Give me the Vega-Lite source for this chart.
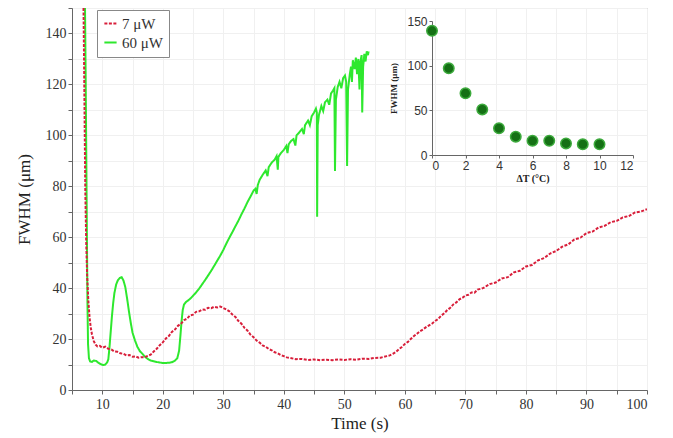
{
  "$schema": "https://vega.github.io/schema/vega-lite/v6.json",
  "width": 575,
  "height": 382,
  "autosize": "none",
  "padding": {"left": 72, "top": 8, "right": 26, "bottom": 48},
  "background": "white",
  "config": {
    "view": {"stroke": "#999", "strokeWidth": 1},
    "axis": {
      "labelFont": "Liberation Serif",
      "titleFont": "Liberation Serif",
      "labelFontSize": 14,
      "titleFontSize": 17,
      "titleFontWeight": "normal",
      "labelColor": "#333",
      "titleColor": "#222",
      "domainColor": "#666",
      "tickColor": "#666",
      "gridColor": "#f0f0f0",
      "tickSize": 4
    }
  },
  "datasets": {
    "curves": [
      {"t": 7.15, "v": 150, "s": "60 μW"}, {"t": 7.25, "v": 125, "s": "60 μW"}, {"t": 7.35, "v": 95, "s": "60 μW"}, {"t": 7.45, "v": 65, "s": "60 μW"}, {"t": 7.55, "v": 35, "s": "60 μW"}, {"t": 7.65, "v": 18, "s": "60 μW"}, {"t": 7.8, "v": 12.5, "s": "60 μW"}, {"t": 8.0, "v": 11.2, "s": "60 μW"}, {"t": 8.3, "v": 11, "s": "60 μW"}, {"t": 8.6, "v": 11.6, "s": "60 μW"}, {"t": 9.0, "v": 11.4, "s": "60 μW"}, {"t": 9.3, "v": 10.8, "s": "60 μW"}, {"t": 9.7, "v": 10.2, "s": "60 μW"}, {"t": 10.1, "v": 9.8, "s": "60 μW"}, {"t": 10.5, "v": 10, "s": "60 μW"}, {"t": 10.8, "v": 10.8, "s": "60 μW"}, {"t": 11.0, "v": 12, "s": "60 μW"}, {"t": 11.2, "v": 17, "s": "60 μW"}, {"t": 11.4, "v": 23, "s": "60 μW"}, {"t": 11.6, "v": 29, "s": "60 μW"}, {"t": 11.8, "v": 34, "s": "60 μW"}, {"t": 12.0, "v": 38, "s": "60 μW"}, {"t": 12.3, "v": 41.5, "s": "60 μW"}, {"t": 12.6, "v": 43.2, "s": "60 μW"}, {"t": 12.9, "v": 44, "s": "60 μW"}, {"t": 13.2, "v": 44.3, "s": "60 μW"}, {"t": 13.5, "v": 43, "s": "60 μW"}, {"t": 13.8, "v": 40.5, "s": "60 μW"}, {"t": 14.1, "v": 36, "s": "60 μW"}, {"t": 14.4, "v": 31, "s": "60 μW"}, {"t": 14.7, "v": 26.5, "s": "60 μW"}, {"t": 15.0, "v": 22.5, "s": "60 μW"}, {"t": 15.4, "v": 19.5, "s": "60 μW"}, {"t": 15.8, "v": 17, "s": "60 μW"}, {"t": 16.2, "v": 15.3, "s": "60 μW"}, {"t": 16.6, "v": 14.3, "s": "60 μW"}, {"t": 17, "v": 13.2, "s": "60 μW"}, {"t": 17.5, "v": 12.2, "s": "60 μW"}, {"t": 18, "v": 11.6, "s": "60 μW"}, {"t": 18.5, "v": 11.3, "s": "60 μW"}, {"t": 19, "v": 11, "s": "60 μW"}, {"t": 19.5, "v": 10.8, "s": "60 μW"}, {"t": 20, "v": 10.6, "s": "60 μW"}, {"t": 20.5, "v": 10.6, "s": "60 μW"}, {"t": 21, "v": 10.7, "s": "60 μW"}, {"t": 21.5, "v": 10.9, "s": "60 μW"}, {"t": 22, "v": 11.5, "s": "60 μW"}, {"t": 22.4, "v": 12.5, "s": "60 μW"}, {"t": 22.7, "v": 15.5, "s": "60 μW"}, {"t": 22.9, "v": 21, "s": "60 μW"}, {"t": 23.1, "v": 27, "s": "60 μW"}, {"t": 23.3, "v": 31.5, "s": "60 μW"}, {"t": 23.5, "v": 33.5, "s": "60 μW"}, {"t": 23.8, "v": 34.5, "s": "60 μW"}, {"t": 24.2, "v": 35.2, "s": "60 μW"}, {"t": 24.6, "v": 36, "s": "60 μW"}, {"t": 25, "v": 37, "s": "60 μW"}, {"t": 25.5, "v": 38.3, "s": "60 μW"}, {"t": 26, "v": 39.8, "s": "60 μW"}, {"t": 26.5, "v": 41.5, "s": "60 μW"}, {"t": 27, "v": 43.2, "s": "60 μW"}, {"t": 27.5, "v": 45, "s": "60 μW"}, {"t": 28, "v": 46.8, "s": "60 μW"}, {"t": 28.5, "v": 48.8, "s": "60 μW"}, {"t": 29, "v": 50.8, "s": "60 μW"}, {"t": 29.5, "v": 52.8, "s": "60 μW"}, {"t": 30, "v": 55, "s": "60 μW"}, {"t": 30.5, "v": 57.5, "s": "60 μW"}, {"t": 31, "v": 59.8, "s": "60 μW"}, {"t": 31.5, "v": 62, "s": "60 μW"}, {"t": 32, "v": 64.3, "s": "60 μW"}, {"t": 32.5, "v": 66.5, "s": "60 μW"}, {"t": 33, "v": 69, "s": "60 μW"}, {"t": 33.5, "v": 71.3, "s": "60 μW"}, {"t": 34, "v": 73.8, "s": "60 μW"}, {"t": 34.5, "v": 76, "s": "60 μW"}, {"t": 35, "v": 78.3, "s": "60 μW"}, {"t": 35.3, "v": 79, "s": "60 μW"}, {"t": 35.5, "v": 77, "s": "60 μW"}, {"t": 35.7, "v": 80.5, "s": "60 μW"}, {"t": 36, "v": 82.5, "s": "60 μW"}, {"t": 36.5, "v": 84.5, "s": "60 μW"}, {"t": 37, "v": 86.2, "s": "60 μW"}, {"t": 37.3, "v": 84, "s": "60 μW"}, {"t": 37.5, "v": 87.5, "s": "60 μW"}, {"t": 38, "v": 89.3, "s": "60 μW"}, {"t": 38.5, "v": 90.5, "s": "60 μW"}, {"t": 38.8, "v": 91.8, "s": "60 μW"}, {"t": 39.0, "v": 86.5, "s": "60 μW"}, {"t": 39.1, "v": 91.5, "s": "60 μW"}, {"t": 39.5, "v": 93, "s": "60 μW"}, {"t": 40, "v": 94.3, "s": "60 μW"}, {"t": 40.4, "v": 95.8, "s": "60 μW"}, {"t": 40.6, "v": 93, "s": "60 μW"}, {"t": 40.8, "v": 96.5, "s": "60 μW"}, {"t": 41.2, "v": 97.8, "s": "60 μW"}, {"t": 41.6, "v": 98.5, "s": "60 μW"}, {"t": 41.9, "v": 96, "s": "60 μW"}, {"t": 42.1, "v": 100, "s": "60 μW"}, {"t": 42.5, "v": 101, "s": "60 μW"}, {"t": 43, "v": 102.5, "s": "60 μW"}, {"t": 43.3, "v": 100.5, "s": "60 μW"}, {"t": 43.5, "v": 104, "s": "60 μW"}, {"t": 44, "v": 105.8, "s": "60 μW"}, {"t": 44.3, "v": 104, "s": "60 μW"}, {"t": 44.6, "v": 107.5, "s": "60 μW"}, {"t": 45, "v": 109, "s": "60 μW"}, {"t": 45.3, "v": 110.5, "s": "60 μW"}, {"t": 45.45, "v": 109, "s": "60 μW"}, {"t": 45.5, "v": 68, "s": "60 μW"}, {"t": 45.6, "v": 104, "s": "60 μW"}, {"t": 45.8, "v": 108, "s": "60 μW"}, {"t": 46.2, "v": 111.5, "s": "60 μW"}, {"t": 46.5, "v": 109.5, "s": "60 μW"}, {"t": 46.8, "v": 113, "s": "60 μW"}, {"t": 47.2, "v": 114, "s": "60 μW"}, {"t": 47.5, "v": 112, "s": "60 μW"}, {"t": 47.8, "v": 116.5, "s": "60 μW"}, {"t": 48.1, "v": 117.5, "s": "60 μW"}, {"t": 48.35, "v": 118.5, "s": "60 μW"}, {"t": 48.45, "v": 86, "s": "60 μW"}, {"t": 48.6, "v": 114, "s": "60 μW"}, {"t": 48.9, "v": 119, "s": "60 μW"}, {"t": 49.2, "v": 121, "s": "60 μW"}, {"t": 49.5, "v": 118.5, "s": "60 μW"}, {"t": 49.8, "v": 122.5, "s": "60 μW"}, {"t": 50.1, "v": 123.5, "s": "60 μW"}, {"t": 50.3, "v": 121, "s": "60 μW"}, {"t": 50.45, "v": 88, "s": "60 μW"}, {"t": 50.6, "v": 118, "s": "60 μW"}, {"t": 50.9, "v": 124, "s": "60 μW"}, {"t": 51.1, "v": 127, "s": "60 μW"}, {"t": 51.25, "v": 121, "s": "60 μW"}, {"t": 51.4, "v": 129.5, "s": "60 μW"}, {"t": 51.7, "v": 126, "s": "60 μW"}, {"t": 51.9, "v": 130.5, "s": "60 μW"}, {"t": 52.1, "v": 124, "s": "60 μW"}, {"t": 52.3, "v": 130, "s": "60 μW"}, {"t": 52.5, "v": 118, "s": "60 μW"}, {"t": 52.65, "v": 129, "s": "60 μW"}, {"t": 52.85, "v": 131.5, "s": "60 μW"}, {"t": 52.95, "v": 109, "s": "60 μW"}, {"t": 53.1, "v": 127, "s": "60 μW"}, {"t": 53.3, "v": 132, "s": "60 μW"}, {"t": 53.5, "v": 129, "s": "60 μW"}, {"t": 53.7, "v": 133, "s": "60 μW"}, {"t": 53.9, "v": 131.5, "s": "60 μW"}, {"t": 54.0, "v": 133, "s": "60 μW"},
      {"t": 6.9, "v": 150, "s": "7 μW"}, {"t": 7.0, "v": 128, "s": "7 μW"}, {"t": 7.1, "v": 102, "s": "7 μW"}, {"t": 7.2, "v": 78, "s": "7 μW"}, {"t": 7.35, "v": 58, "s": "7 μW"}, {"t": 7.5, "v": 45, "s": "7 μW"}, {"t": 7.7, "v": 35, "s": "7 μW"}, {"t": 7.9, "v": 28.5, "s": "7 μW"}, {"t": 8.1, "v": 24.5, "s": "7 μW"}, {"t": 8.3, "v": 21.8, "s": "7 μW"}, {"t": 8.6, "v": 19.2, "s": "7 μW"}, {"t": 8.9, "v": 17.8, "s": "7 μW"}, {"t": 9.2, "v": 17.1, "s": "7 μW"}, {"t": 9.6, "v": 17.3, "s": "7 μW"}, {"t": 10, "v": 16.6, "s": "7 μW"}, {"t": 10.5, "v": 17, "s": "7 μW"}, {"t": 11, "v": 16.2, "s": "7 μW"}, {"t": 11.5, "v": 15.9, "s": "7 μW"}, {"t": 12, "v": 15.1, "s": "7 μW"}, {"t": 12.5, "v": 15, "s": "7 μW"}, {"t": 13, "v": 14.4, "s": "7 μW"}, {"t": 13.5, "v": 14.2, "s": "7 μW"}, {"t": 14, "v": 13.6, "s": "7 μW"}, {"t": 14.5, "v": 13.7, "s": "7 μW"}, {"t": 15, "v": 13.1, "s": "7 μW"}, {"t": 15.5, "v": 13.2, "s": "7 μW"}, {"t": 16, "v": 12.7, "s": "7 μW"}, {"t": 16.5, "v": 12.9, "s": "7 μW"}, {"t": 17, "v": 12.8, "s": "7 μW"}, {"t": 17.5, "v": 13.4, "s": "7 μW"}, {"t": 18, "v": 13.9, "s": "7 μW"}, {"t": 18.5, "v": 15.1, "s": "7 μW"}, {"t": 19, "v": 16.2, "s": "7 μW"}, {"t": 19.5, "v": 17.6, "s": "7 μW"}, {"t": 20, "v": 18.7, "s": "7 μW"}, {"t": 20.5, "v": 20.2, "s": "7 μW"}, {"t": 21, "v": 21.2, "s": "7 μW"}, {"t": 21.5, "v": 22.8, "s": "7 μW"}, {"t": 22, "v": 23.7, "s": "7 μW"}, {"t": 22.5, "v": 25.2, "s": "7 μW"}, {"t": 23, "v": 26, "s": "7 μW"}, {"t": 23.5, "v": 27.4, "s": "7 μW"}, {"t": 24, "v": 28, "s": "7 μW"}, {"t": 24.5, "v": 29.3, "s": "7 μW"}, {"t": 25, "v": 29.6, "s": "7 μW"}, {"t": 25.5, "v": 30.7, "s": "7 μW"}, {"t": 26, "v": 30.9, "s": "7 μW"}, {"t": 26.5, "v": 31.6, "s": "7 μW"}, {"t": 27, "v": 31.5, "s": "7 μW"}, {"t": 27.5, "v": 32.3, "s": "7 μW"}, {"t": 28, "v": 32.1, "s": "7 μW"}, {"t": 28.5, "v": 32.7, "s": "7 μW"}, {"t": 29, "v": 32.4, "s": "7 μW"}, {"t": 29.5, "v": 32.8, "s": "7 μW"}, {"t": 30, "v": 32.2, "s": "7 μW"}, {"t": 30.5, "v": 31.6, "s": "7 μW"}, {"t": 31, "v": 30.9, "s": "7 μW"}, {"t": 31.5, "v": 29.6, "s": "7 μW"}, {"t": 32, "v": 28.7, "s": "7 μW"}, {"t": 32.5, "v": 27.1, "s": "7 μW"}, {"t": 33, "v": 26, "s": "7 μW"}, {"t": 33.5, "v": 24.4, "s": "7 μW"}, {"t": 34, "v": 23.3, "s": "7 μW"}, {"t": 34.5, "v": 21.7, "s": "7 μW"}, {"t": 35, "v": 20.7, "s": "7 μW"}, {"t": 35.5, "v": 19.4, "s": "7 μW"}, {"t": 36, "v": 18.6, "s": "7 μW"}, {"t": 36.5, "v": 17.5, "s": "7 μW"}, {"t": 37, "v": 17, "s": "7 μW"}, {"t": 37.5, "v": 16.1, "s": "7 μW"}, {"t": 38, "v": 15.6, "s": "7 μW"}, {"t": 38.5, "v": 14.8, "s": "7 μW"}, {"t": 39, "v": 14.4, "s": "7 μW"}, {"t": 39.5, "v": 13.7, "s": "7 μW"}, {"t": 40, "v": 13.3, "s": "7 μW"}, {"t": 40.5, "v": 12.8, "s": "7 μW"}, {"t": 41, "v": 12.6, "s": "7 μW"}, {"t": 42, "v": 12.1, "s": "7 μW"}, {"t": 43, "v": 12.2, "s": "7 μW"}, {"t": 44, "v": 11.8, "s": "7 μW"}, {"t": 45, "v": 12, "s": "7 μW"}, {"t": 46, "v": 11.7, "s": "7 μW"}, {"t": 47, "v": 11.9, "s": "7 μW"}, {"t": 48, "v": 11.7, "s": "7 μW"}, {"t": 49, "v": 12, "s": "7 μW"}, {"t": 50, "v": 11.8, "s": "7 μW"}, {"t": 51, "v": 12.1, "s": "7 μW"}, {"t": 52, "v": 11.9, "s": "7 μW"}, {"t": 53, "v": 12.3, "s": "7 μW"}, {"t": 54, "v": 12.2, "s": "7 μW"}, {"t": 55, "v": 12.6, "s": "7 μW"}, {"t": 56, "v": 12.7, "s": "7 μW"}, {"t": 57, "v": 13.3, "s": "7 μW"}, {"t": 57.5, "v": 13.6, "s": "7 μW"}, {"t": 58, "v": 14.2, "s": "7 μW"}, {"t": 58.5, "v": 14.9, "s": "7 μW"}, {"t": 59, "v": 16, "s": "7 μW"}, {"t": 59.5, "v": 16.9, "s": "7 μW"}, {"t": 60, "v": 18.1, "s": "7 μW"}, {"t": 60.5, "v": 18.9, "s": "7 μW"}, {"t": 61, "v": 20.1, "s": "7 μW"}, {"t": 61.5, "v": 21.2, "s": "7 μW"}, {"t": 62, "v": 22.1, "s": "7 μW"}, {"t": 62.5, "v": 23.1, "s": "7 μW"}, {"t": 63, "v": 23.8, "s": "7 μW"}, {"t": 63.5, "v": 24.7, "s": "7 μW"}, {"t": 64, "v": 25.4, "s": "7 μW"}, {"t": 64.5, "v": 26.1, "s": "7 μW"}, {"t": 65, "v": 27.1, "s": "7 μW"}, {"t": 65.5, "v": 27.9, "s": "7 μW"}, {"t": 66, "v": 29.2, "s": "7 μW"}, {"t": 66.5, "v": 30.1, "s": "7 μW"}, {"t": 67, "v": 31.4, "s": "7 μW"}, {"t": 67.5, "v": 32.3, "s": "7 μW"}, {"t": 68, "v": 33.6, "s": "7 μW"}, {"t": 68.5, "v": 34.4, "s": "7 μW"}, {"t": 69, "v": 35.6, "s": "7 μW"}, {"t": 69.5, "v": 36.2, "s": "7 μW"}, {"t": 70, "v": 37.1, "s": "7 μW"}, {"t": 70.5, "v": 37.4, "s": "7 μW"}, {"t": 71, "v": 38.3, "s": "7 μW"}, {"t": 71.5, "v": 38.2, "s": "7 μW"}, {"t": 72, "v": 39.4, "s": "7 μW"}, {"t": 73, "v": 40.1, "s": "7 μW"}, {"t": 74, "v": 41.6, "s": "7 μW"}, {"t": 75, "v": 42.2, "s": "7 μW"}, {"t": 76, "v": 43.8, "s": "7 μW"}, {"t": 77, "v": 44.3, "s": "7 μW"}, {"t": 78, "v": 46.2, "s": "7 μW"}, {"t": 79, "v": 46.8, "s": "7 μW"}, {"t": 80, "v": 48.5, "s": "7 μW"}, {"t": 81, "v": 49.1, "s": "7 μW"}, {"t": 82, "v": 50.9, "s": "7 μW"}, {"t": 83, "v": 51.8, "s": "7 μW"}, {"t": 84, "v": 53.6, "s": "7 μW"}, {"t": 85, "v": 54.6, "s": "7 μW"}, {"t": 86, "v": 56.3, "s": "7 μW"}, {"t": 87, "v": 57.2, "s": "7 μW"}, {"t": 88, "v": 59.1, "s": "7 μW"}, {"t": 89, "v": 59.8, "s": "7 μW"}, {"t": 90, "v": 61.6, "s": "7 μW"}, {"t": 91, "v": 62.2, "s": "7 μW"}, {"t": 92, "v": 63.8, "s": "7 μW"}, {"t": 93, "v": 64.5, "s": "7 μW"}, {"t": 94, "v": 65.9, "s": "7 μW"}, {"t": 95, "v": 66.4, "s": "7 μW"}, {"t": 96, "v": 67.8, "s": "7 μW"}, {"t": 97, "v": 68.3, "s": "7 μW"}, {"t": 98, "v": 69.7, "s": "7 μW"}, {"t": 99, "v": 70.1, "s": "7 μW"}, {"t": 100, "v": 71, "s": "7 μW"}
    ],
    "inset": [
      {"dT": 0, "fwhm": 139}, {"dT": 1, "fwhm": 97}, {"dT": 2, "fwhm": 69}, {"dT": 3, "fwhm": 51},
      {"dT": 4, "fwhm": 30}, {"dT": 5, "fwhm": 20.5}, {"dT": 6, "fwhm": 16}, {"dT": 7, "fwhm": 16},
      {"dT": 8, "fwhm": 13}, {"dT": 9, "fwhm": 12}, {"dT": 10, "fwhm": 12}
    ]
  },
  "layer": [
    {
      "data": {"name": "curves"},
      "mark": {"type": "line", "strokeWidth": 2, "clip": true},
      "encoding": {
        "x": {
          "field": "t", "type": "quantitative",
          "scale": {"domain": [5, 100], "nice": false, "zero": false},
          "axis": {
            "title": "Time (s)",
            "values": [5, 10, 15, 20, 25, 30, 35, 40, 45, 50, 55, 60, 65, 70, 75, 80, 85, 90, 95, 100],
            "labelExpr": "datum.value % 10 === 0 ? datum.label : ''",
            "labelPadding": 3,
            "titlePadding": 4,
            "grid": true
          }
        },
        "y": {
          "field": "v", "type": "quantitative",
          "scale": {"domain": [0, 150], "nice": false},
          "axis": {
            "title": "FWHM (μm)",
            "values": [0, 10, 20, 30, 40, 50, 60, 70, 80, 90, 100, 110, 120, 130, 140, 150],
            "labelExpr": "datum.value % 20 === 0 && datum.value < 150 ? datum.label : ''",
            "titlePadding": 12,
            "grid": true
          }
        },
        "color": {
          "field": "s", "type": "nominal",
          "scale": {"domain": ["7 μW", "60 μW"], "range": ["#d81e3a", "#2ee82e"]},
          "legend": {
            "title": null,
            "orient": "none",
            "legendX": 25,
            "legendY": 2,
            "direction": "vertical",
            "strokeColor": "#888",
            "fillColor": "white",
            "padding": 6,
            "labelFont": "Liberation Serif",
            "labelFontSize": 15,
            "labelColor": "#333",
            "symbolType": "stroke",
            "symbolSize": 150,
            "symbolStrokeWidth": 2,
            "rowPadding": 3
          }
        },
        "strokeDash": {
          "field": "s", "type": "nominal",
          "scale": {"domain": ["7 μW", "60 μW"], "range": [[3, 1.5], [1, 0]]},
          "legend": {"title": null}
        }
      }
    },
    {
      "data": {"name": "inset"},
      "mark": {"type": "point", "filled": true, "size": 110, "color": "#157015", "stroke": "#3caa3c", "strokeWidth": 1.5, "opacity": 1},
      "encoding": {
        "x": {
          "field": "dT", "type": "quantitative",
          "scale": {"domain": [0, 12], "range": [360, 561], "nice": false},
          "axis": {
            "orient": "bottom",
            "offset": -235,
            "grid": false,
            "values": [0, 2, 4, 6, 8, 10, 12],
            "title": "ΔT (°C)",
            "titleFont": "Liberation Serif",
            "titleFontSize": 10,
            "titleFontWeight": "bold",
            "titlePadding": 2,
            "labelFont": "Liberation Sans",
            "labelFontSize": 12,
            "tickSize": 3,
            "labelPadding": 2
          }
        },
        "y": {
          "field": "fwhm", "type": "quantitative",
          "scale": {"domain": [0, 150], "range": [147, 13], "nice": false},
          "axis": {
            "orient": "left",
            "offset": -360,
            "grid": false,
            "values": [0, 50, 100, 150],
            "title": "FWHM (μm)",
            "titleFont": "Liberation Serif",
            "titleFontSize": 9,
            "titleFontWeight": "bold",
            "titlePadding": 8,
            "labelFont": "Liberation Sans",
            "labelFontSize": 12,
            "tickSize": 3,
            "labelPadding": 2
          }
        }
      }
    }
  ],
  "resolve": {"scale": {"x": "independent", "y": "independent"}, "axis": {"x": "independent", "y": "independent"}}
}
